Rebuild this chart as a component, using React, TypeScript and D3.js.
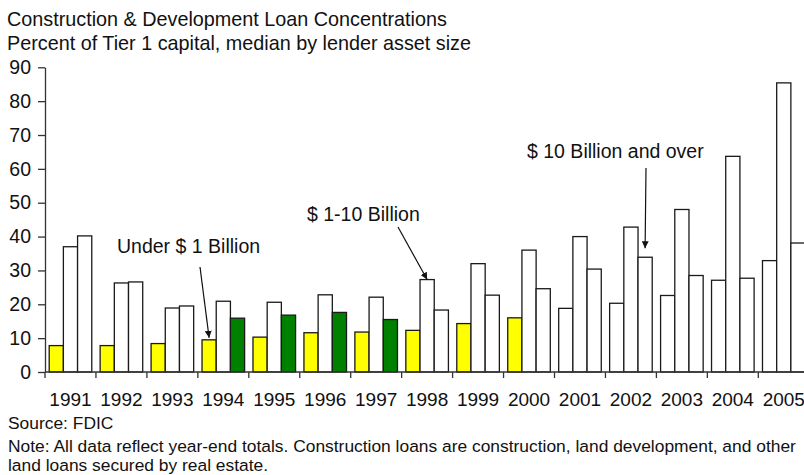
import React, { useEffect, useRef } from "react";
import * as d3 from "d3";

// median C&D loans as % of Tier 1 capital, by lender asset size
const years = [
  "1991", "1992", "1993", "1994", "1995", "1996", "1997", "1998",
  "1999", "2000", "2001", "2002", "2003", "2004", "2005",
];
const under1B = [7.8, 7.8, 8.4, 9.5, 10.3, 11.6, 11.8, 12.3, 14.3, 16.0, 18.8, 20.3, 22.6, 27.1, 32.9];
const oneTo10B = [37.0, 26.3, 18.9, 20.9, 20.6, 22.8, 22.1, 27.3, 32.0, 36.0, 40.0, 42.8, 48.0, 63.7, 85.4];
const over10B = [40.2, 26.6, 19.5, 15.9, 16.8, 17.6, 15.5, 18.3, 22.7, 24.6, 30.4, 33.9, 28.5, 27.7, 38.1];
const yTicks = [0, 10, 20, 30, 40, 50, 60, 70, 80, 90];

// years where a series is shaded in the original
const under1BShaded = ["1991", "1992", "1993", "1994", "1995", "1996", "1997", "1998", "1999", "2000"];
const over10BShaded = ["1994", "1995", "1996", "1997"];

const seriesNames = ["Under $ 1 Billion", "$ 1-10 Billion", "$ 10 Billion and over"];

const App = () => {
  const chart = useRef(null);

  useEffect(() => {
    const width = 804;
    const height = 475;
    const font = "'Liberation Sans', Arial, sans-serif";

    const svg = d3.select(chart.current);
    svg.selectAll("*").remove();
    svg.attr("width", width).attr("height", height);

    const step = 50.95;
    const left = 45;
    const x0 = d3
      .scaleBand()
      .domain(years)
      .range([left, left + step * years.length])
      .padding(0);
    const x1 = d3
      .scaleBand()
      .domain(["0", "1", "2"])
      .range([0, x0.bandwidth()])
      .paddingInner(0)
      .paddingOuter(0.295);
    const y = d3.scaleLinear().domain([0, 90]).range([372, 67.3]);

    const rows = years.map((yr, i) => ({
      year: yr,
      vals: [under1B[i], oneTo10B[i], over10B[i]],
    }));

    const fillFor = (yr, s) => {
      if (s === 0 && under1BShaded.includes(yr)) return "#ffff00";
      if (s === 2 && over10BShaded.includes(yr)) return "#008000";
      return "#ffffff";
    };

    // titles
    svg
      .append("text")
      .attr("x", 7)
      .attr("y", 26)
      .attr("font-family", font)
      .attr("font-size", 19.8)
      .attr("fill", "#111")
      .text("Construction & Development Loan Concentrations");
    svg
      .append("text")
      .attr("x", 7)
      .attr("y", 50)
      .attr("font-family", font)
      .attr("font-size", 19.8)
      .attr("fill", "#111")
      .text("Percent of Tier 1 capital, median by lender asset size");

    // bars
    const g = svg.append("g");
    g.selectAll("g.year")
      .data(rows)
      .enter()
      .append("g")
      .attr("class", "year")
      .attr("transform", (d) => `translate(${x0(d.year)},0)`)
      .selectAll("rect")
      .data((d) => d.vals.map((v, s) => ({ year: d.year, v, s })))
      .enter()
      .append("rect")
      .attr("x", (d) => x1(String(d.s)))
      .attr("y", (d) => y(d.v))
      .attr("width", x1.bandwidth())
      .attr("height", (d) => y(0) - y(d.v))
      .attr("fill", (d) => fillFor(d.year, d.s))
      .attr("stroke", "#1a1a1a")
      .attr("stroke-width", 1.3);

    // y axis
    const yAxis = svg
      .append("g")
      .attr("transform", `translate(${left},0)`)
      .call(d3.axisLeft(y).tickValues(yTicks).tickSize(7).tickSizeOuter(0).tickPadding(7));
    yAxis.select(".domain").attr("stroke", "#333").attr("stroke-width", 1.3);
    yAxis.selectAll(".tick line").attr("stroke", "#333").attr("stroke-width", 1.3);
    yAxis
      .selectAll(".tick text")
      .attr("font-family", font)
      .attr("font-size", 19.5)
      .attr("fill", "#111");

    // x axis: ticks between years, labels centered
    const xAxis = svg.append("g");
    xAxis
      .append("line")
      .attr("x1", left)
      .attr("x2", x0.range()[1])
      .attr("y1", y(0))
      .attr("y2", y(0))
      .attr("stroke", "#333")
      .attr("stroke-width", 1.3);
    xAxis
      .selectAll("line.tick")
      .data(years)
      .enter()
      .append("line")
      .attr("class", "tick")
      .attr("x1", (d) => x0(d))
      .attr("x2", (d) => x0(d))
      .attr("y1", y(0))
      .attr("y2", y(0) + 6)
      .attr("stroke", "#333")
      .attr("stroke-width", 1.3);
    xAxis
      .selectAll("text")
      .data(years)
      .enter()
      .append("text")
      .attr("x", (d) => x0(d) + x0.bandwidth() / 2)
      .attr("y", 406)
      .attr("text-anchor", "middle")
      .attr("font-family", font)
      .attr("font-size", 19)
      .attr("fill", "#111")
      .text((d) => d);

    // annotations
    svg
      .append("defs")
      .append("marker")
      .attr("id", "arrow")
      .attr("viewBox", "0 0 10 10")
      .attr("refX", 10)
      .attr("refY", 5)
      .attr("markerWidth", 7)
      .attr("markerHeight", 7)
      .attr("markerUnits", "userSpaceOnUse")
      .attr("orient", "auto")
      .append("path")
      .attr("d", "M0,0L10,5L0,10z")
      .attr("fill", "#111");

    const notes = [
      { s: 0, year: "1994", vals: under1B, gap: 2, tx: 117, ty: 253, ax: 200, ay: 267 },
      { s: 1, year: "1998", vals: oneTo10B, gap: 0, tx: 307, ty: 221, ax: 398, ay: 227 },
      { s: 2, year: "2002", vals: over10B, gap: 9, tx: 527, ty: 158, ax: 646, ay: 168 },
    ];
    notes.forEach((n) => {
      const i = years.indexOf(n.year);
      const bx = x0(n.year) + x1(String(n.s)) + x1.bandwidth() / 2;
      const by = y(n.vals[i]) - n.gap;
      svg
        .append("text")
        .attr("x", n.tx)
        .attr("y", n.ty)
        .attr("font-family", font)
        .attr("font-size", 19.5)
        .attr("fill", "#111")
        .text(seriesNames[n.s]);
      svg
        .append("line")
        .attr("x1", n.ax)
        .attr("y1", n.ay)
        .attr("x2", bx)
        .attr("y2", by)
        .attr("stroke", "#111")
        .attr("stroke-width", 1.2)
        .attr("marker-end", "url(#arrow)");
    });

    // footer
    const foot = [
      { t: "Source: FDIC", y: 429 },
      { t: "Note: All data reflect year-end totals. Construction loans are construction, land development, and other", y: 452 },
      { t: "land loans secured by real estate.", y: 471 },
    ];
    svg
      .selectAll("text.foot")
      .data(foot)
      .enter()
      .append("text")
      .attr("class", "foot")
      .attr("x", 8)
      .attr("y", (d) => d.y)
      .attr("font-family", font)
      .attr("font-size", 17.4)
      .attr("fill", "#111")
      .text((d) => d.t);
  }, []);

  return (
    <div style={{ position: "absolute", left: 0, top: 0, width: 804, height: 475, overflow: "hidden", background: "#fff" }}>
      <svg ref={chart}></svg>
    </div>
  );
};

export default App;
